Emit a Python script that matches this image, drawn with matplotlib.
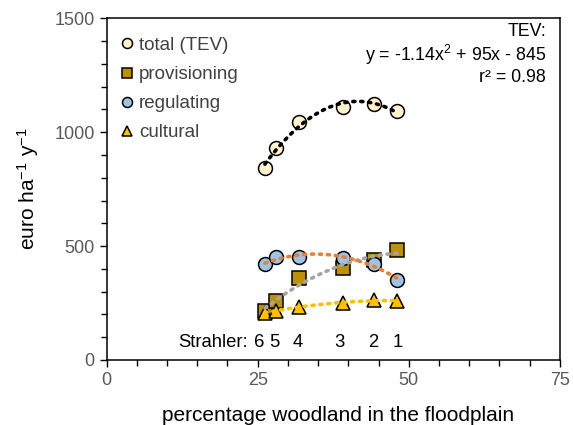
import numpy as np
import matplotlib
matplotlib.use("Agg")
import matplotlib.pyplot as plt
from matplotlib.ticker import MultipleLocator

plt.rcParams['font.family'] = ['Liberation Sans', 'DejaVu Sans']
plt.rcParams['mathtext.default'] = 'regular'

# data
woodland = [26.2, 28.0, 31.8, 39.2, 44.3, 48.1]
total = [841, 932, 1046, 1109, 1124, 1092]
provisioning = [215, 260, 359, 405, 439, 483]
regulating = [420, 453, 451, 448, 423, 351]
cultural = [208, 216, 231, 252, 263, 259]
total_xerr = [1.0, 0, 0, 0, 0, 0]

# Strahler order labels along the bottom
strahler = ['6', '5', '4', '3', '2', '1']
strahler_x = [25.2, 27.85, 31.65, 38.6, 44.05, 48.2]

x = np.array(woodland)
xs = np.linspace(x.min(), x.max(), 100)

fig = plt.figure(figsize=(5.73, 4.25), dpi=100)
ax = fig.add_axes([0.186, 0.153, 0.791, 0.804])

series = [
    ('total (TEV)', total, 'o', '#FFF2CC', 'black'),
    ('provisioning', provisioning, 's', '#BF9000', '#A5A5A5'),
    ('regulating', regulating, 'o', '#9DC3E6', '#ED7D31'),
    ('cultural', cultural, '^', '#FFC000', '#FFC000'),
]

ax.errorbar(x, total, xerr=total_xerr, fmt='none', ecolor='#7F7F7F',
            elinewidth=1, capsize=3, zorder=2)

for label, vals, mk, fc, lc in series:
    ax.plot(x, vals, linestyle='none', marker=mk, markersize=10,
            markerfacecolor=fc, markeredgecolor='black', markeredgewidth=1.1,
            label=label, zorder=3)
# quadratic trendlines on top of the markers
for label, vals, mk, fc, lc in series:
    c = np.polyfit(x, vals, 2)
    ax.plot(xs, np.polyval(c, xs), linestyle=(0, (0.6, 1.6)), color=lc,
            linewidth=2.6, dash_capstyle='round', zorder=4)

ax.text(23.4, 76, 'Strahler:', ha='right', va='center', fontsize=13.3)
for xi, s in zip(strahler_x, strahler):
    ax.text(xi, 76, s, ha='center', va='center', fontsize=13.3)

ax.text(0.97, 0.985, 'TEV:\ny = -1.14x$^2$ + 95x - 845\nr² = 0.98',
        transform=ax.transAxes, ha='right', va='top', fontsize=12.8,
        linespacing=1.15)

leg = ax.legend(loc='upper left', bbox_to_anchor=(-0.012, 0.995), frameon=False,
                fontsize=13.5, markerscale=0.72, handletextpad=0.12,
                labelspacing=0.64, handlelength=1.0)
for t in leg.get_texts():
    t.set_color('#404040')

ax.set_xlim(0, 75)
ax.set_ylim(0, 1500)
ax.xaxis.set_major_locator(MultipleLocator(25))
ax.xaxis.set_minor_locator(MultipleLocator(5))
ax.yaxis.set_major_locator(MultipleLocator(500))
ax.yaxis.set_minor_locator(MultipleLocator(100))
ax.tick_params(which='both', direction='out', labelsize=13,
               labelcolor='#595959', width=1)
ax.tick_params(which='major', length=5)
ax.tick_params(which='minor', length=4)
for sp in ax.spines.values():
    sp.set_linewidth(1.1)

ax.set_xlabel('percentage woodland in the floodplain', fontsize=15, labelpad=12)
ax.set_ylabel('euro ha$^{-1}$ y$^{-1}$', fontsize=15, labelpad=10)
ax.xaxis.set_label_coords(0.51, -0.135)

fig.savefig('out.png', dpi=100)
